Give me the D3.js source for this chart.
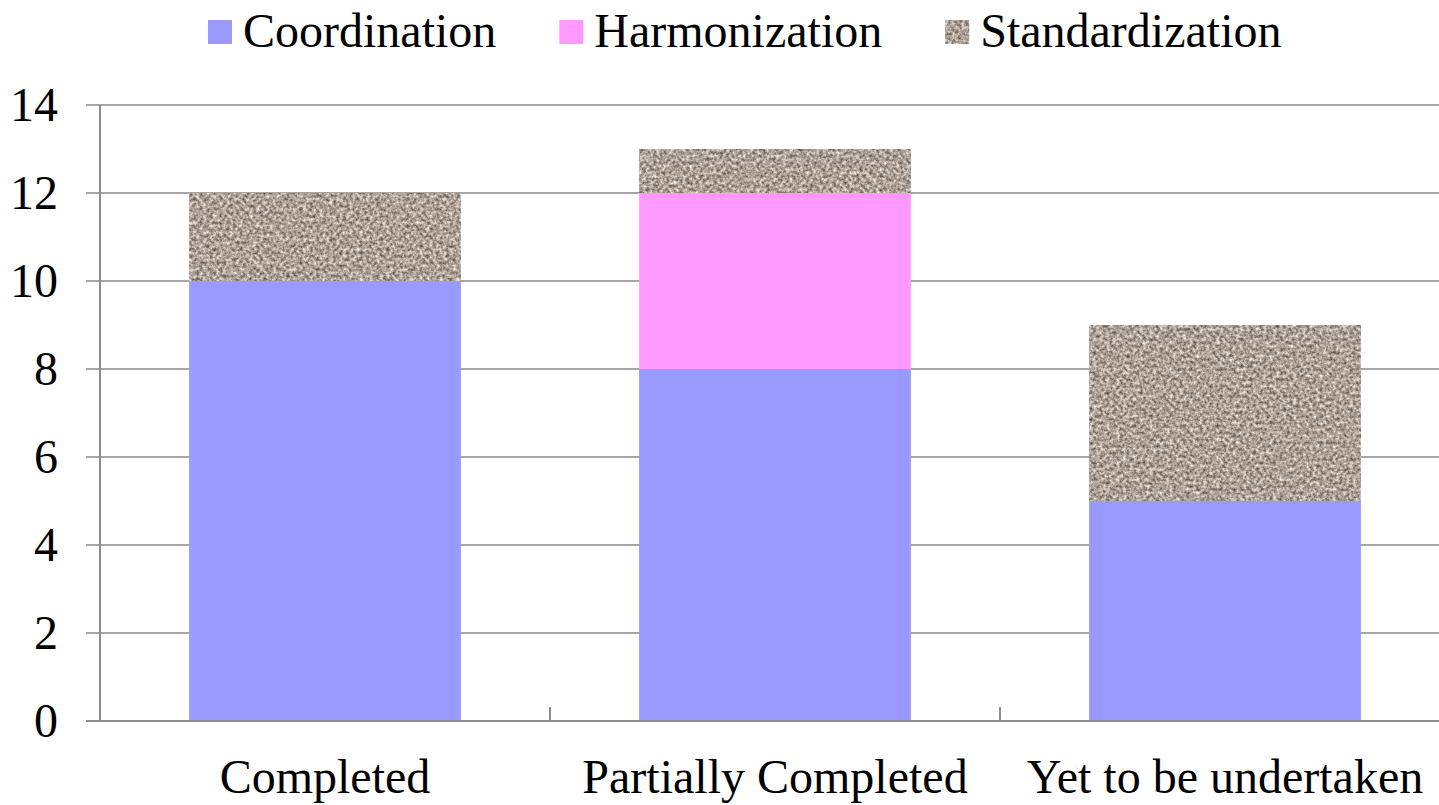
<!DOCTYPE html>
<html>
<head>
<meta charset="utf-8">
<script src="https://cdn.jsdelivr.net/npm/d3@7"></script>
<style>
  body { margin: 0; background: #fff; }
  svg text { font-family: "Times New Roman", "Liberation Serif", serif; font-size: 48px; fill: #000; }
</style>
</head>
<body>
<svg id="chart" width="1439" height="805"></svg>
<script>
// chart data
var categories = ["Completed", "Partially Completed", "Yet to be undertaken"];
var seriesNames = ["Coordination", "Harmonization", "Standardization"];
var coordination = [10, 8, 5];
var harmonization = [0, 4, 0];
var standardization = [2, 1, 4];
var yTicks = [0, 2, 4, 6, 8, 10, 12, 14];

var svg = d3.select("#chart");
var margin = { left: 100, top: 105, right: -11, bottom: 84 };
var width = 1439 - margin.left - margin.right;
var height = 805 - margin.top - margin.bottom;

// granite-like texture for Standardization
var defs = svg.append("defs");
var f = defs.append("filter").attr("id", "granite")
  .attr("color-interpolation-filters", "sRGB")
  .attr("x", 0).attr("y", 0).attr("width", 1).attr("height", 1);
f.append("feTurbulence").attr("type", "fractalNoise")
  .attr("baseFrequency", 0.3).attr("numOctaves", 3).attr("seed", 7).attr("result", "noise");
f.append("feColorMatrix").attr("in", "noise").attr("type", "matrix")
  .attr("values", "0.9 0 0 0 0.23  0.9 0 0 0 0.18  0.9 0 0 0 0.14  0 0 0 0 1")
  .attr("result", "tex");
f.append("feComposite").attr("in", "tex").attr("in2", "SourceGraphic").attr("operator", "in");

var colors = { Coordination: "#9999ff", Harmonization: "#ff99ff", Standardization: "#a89c92" };

var rows = categories.map(function(c, i) {
  return { cat: c, Coordination: coordination[i], Harmonization: harmonization[i], Standardization: standardization[i] };
});
var stacked = d3.stack().keys(seriesNames)(rows);

var x = d3.scaleBand().domain(categories).range([0, width]).paddingInner(0.396).paddingOuter(0.198);
var y = d3.scaleLinear().domain([0, 14]).range([height, 0]);

var g = svg.append("g").attr("transform", "translate(" + margin.left + "," + margin.top + ")");

// gridlines (extend left as outer ticks)
g.append("g").selectAll("line").data(yTicks.filter(function(d) { return d > 0; })).enter()
  .append("line")
  .attr("x1", -14).attr("x2", width)
  .attr("y1", function(d) { return y(d); }).attr("y2", function(d) { return y(d); })
  .attr("stroke", "#a6a6a6").attr("stroke-width", 2);

// bars
g.selectAll(".series").data(stacked).enter().append("g")
  .attr("class", "series")
  .each(function(s) {
    d3.select(this).selectAll("rect").data(s).enter().append("rect")
      .attr("x", function(d) { return x(d.data.cat); })
      .attr("width", x.bandwidth())
      .attr("y", function(d) { return y(d[1]); })
      .attr("height", function(d) { return y(d[0]) - y(d[1]); })
      .attr("fill", colors[s.key])
      .attr("filter", s.key === "Standardization" ? "url(#granite)" : null);
  });

// y axis
var yAxis = g.append("g");
yAxis.append("line").attr("x1", 0).attr("x2", 0).attr("y1", y(14)).attr("y2", y(0))
  .attr("stroke", "#8c8c8c").attr("stroke-width", 2);
yAxis.selectAll("text").data(yTicks).enter().append("text")
  .attr("x", -42).attr("y", function(d) { return y(d); })
  .attr("dy", "0.34em").attr("text-anchor", "end")
  .text(function(d) { return d; });

// x axis
var xAxis = g.append("g");
xAxis.append("line").attr("x1", -14).attr("x2", width).attr("y1", y(0)).attr("y2", y(0))
  .attr("stroke", "#8c8c8c").attr("stroke-width", 2);
var bounds = categories.slice(1).map(function(c) { return x(c) - x.step() * x.paddingInner() / 2; });
xAxis.selectAll(".tick").data(bounds).enter().append("line")
  .attr("x1", function(d) { return d; }).attr("x2", function(d) { return d; })
  .attr("y1", y(0)).attr("y2", y(0) - 14)
  .attr("stroke", "#8c8c8c").attr("stroke-width", 2);
xAxis.selectAll("text").data(categories).enter().append("text")
  .attr("x", function(d) { return x(d) + x.bandwidth() / 2; })
  .attr("y", y(0) + 72).attr("text-anchor", "middle")
  .text(function(d) { return d; });

// legend
var legend = svg.append("g").attr("transform", "translate(208,0)");
var lx = 0;
seriesNames.forEach(function(name) {
  var item = legend.append("g").attr("transform", "translate(" + lx + ",0)");
  item.append("rect").attr("x", 0).attr("y", 20).attr("width", 24).attr("height", 24)
    .attr("fill", colors[name])
    .attr("filter", name === "Standardization" ? "url(#granite)" : null);
  var t = item.append("text").attr("x", 35).attr("y", 47).text(name);
  lx += 35 + t.node().getComputedTextLength() + 63;
});
</script>
</body>
</html>
